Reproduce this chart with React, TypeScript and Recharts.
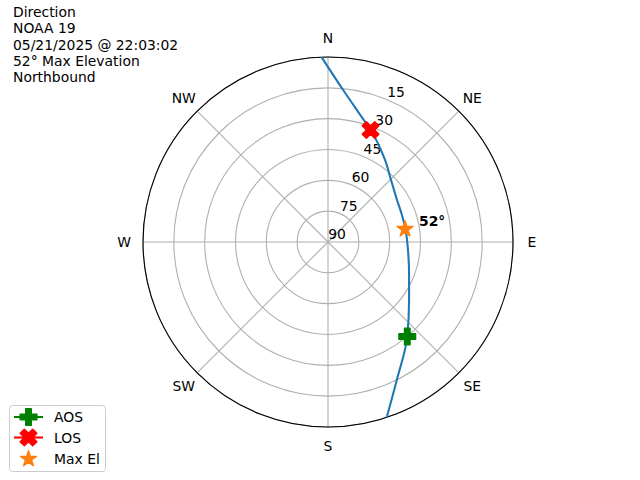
import React from 'react';
import {
  RadarChart,
  PolarGrid,
  PolarAngleAxis,
  PolarRadiusAxis,
  Radar,
  ScatterChart,
  Scatter,
  XAxis,
  YAxis,
} from 'recharts';

const FONT = '"DejaVu Sans", Verdana, sans-serif';
const CX = 328;
const CY = 242;
const R = 185;
const MARKER = 16.7; // 12pt markers

const titleLines = ['Direction', 'NOAA 19', '05/21/2025 @ 22:03:02', '52° Max Elevation', 'Northbound'];
const directions = ['N', 'NE', 'E', 'SE', 'S', 'SW', 'W', 'NW'];
const ringTicks = [0, 15, 30, 45, 60, 75, 90]; // zenith distance, label is 90 - value

// satellite track, degrees
const trackAz = [161.5, 153.5, 140.0, 125.6, 112.2, 95.7, 80.5, 69.9, 58.7, 45.5, 34.8, 20.8, 17.1, 5.7, 358.0];
const trackEl = [0, 15.0, 30.0, 41.5, 47.4, 50.9, 51.8, 51.7, 50.7, 47.0, 41.4, 31.7, 28.8, 15.7, 0];

const aosPoint = [{ az: 140.0, el: 30.0 }];
const losPoint = [{ az: 20.8, el: 31.7 }];
const maxElPoint = [{ az: 80.5, el: 52 }];

const toXY = (az: number, el: number) => {
  const rad = (az * Math.PI) / 180;
  return { az, el, x: (90 - el) * Math.sin(rad), y: (90 - el) * Math.cos(rad) };
};

const track = trackAz.map((az, i) => toXY(az, trackEl[i]));
const aosData = aosPoint.map((p) => toXY(p.az, p.el));
const losData = losPoint.map((p) => toXY(p.az, p.el));
const maxData = maxElPoint.map((p) => toXY(p.az, p.el));

const gridRows = directions.map((d) => ({ dir: d, zero: 0 }));

// matplotlib marker outlines
const plusPts = [[-1, -3], [1, -3], [1, -1], [3, -1], [3, 1], [1, 1], [1, 3], [-1, 3], [-1, 1], [-3, 1], [-3, -1], [-1, -1]];
const xPts = [[-1, -2], [0, -1], [1, -2], [2, -1], [1, 0], [2, 1], [1, 2], [0, 1], [-1, 2], [-2, 1], [-1, 0], [-2, -1]];

const polyPath = (pts: number[][], cx: number, cy: number, k: number) =>
  pts.map((p, i) => `${i ? 'L' : 'M'}${cx + p[0] * k},${cy + p[1] * k}`).join('') + 'Z';

const starPath = (cx: number, cy: number, size: number) => {
  const ro = size / 2;
  const ri = ro * 0.381966;
  let d = '';
  for (let i = 0; i < 10; i++) {
    const a = (i * Math.PI) / 5;
    const rr = i % 2 ? ri : ro;
    d += `${i ? 'L' : 'M'}${cx + rr * Math.sin(a)},${cy - rr * Math.cos(a)}`;
  }
  return d + 'Z';
};

const Plus = ({ cx, cy }: any) => (
  <path d={polyPath(plusPts, cx, cy, MARKER / 6)} fill="#008000" stroke="#008000" strokeWidth={1.4} strokeLinejoin="round" />
);
const Cross = ({ cx, cy }: any) => (
  <path d={polyPath(xPts, cx, cy, MARKER / 4)} fill="#ff0000" stroke="#ff0000" strokeWidth={1.4} strokeLinejoin="round" />
);
const Star = ({ cx, cy, payload }: any) => (
  <g>
    <path d={starPath(cx, cy, MARKER)} fill="#ff7f0e" stroke="#ff7f0e" strokeWidth={1.4} strokeLinejoin="round" />
    {payload && (
      <text x={cx + 14} y={cy - 8} fontFamily={FONT} fontSize={13.9} fontWeight="bold" dominantBaseline="central">
        {`${Math.round(payload.el)}°`}
      </text>
    )}
  </g>
);

const CompassTick = ({ x, y, payload }: any) => {
  const dx = x - CX;
  const dy = y - CY;
  const d = Math.hypot(dx, dy) || 1;
  const k = (R + 19) / d;
  return (
    <text x={CX + dx * k} y={CY + dy * k} textAnchor="middle" dominantBaseline="central" fontFamily={FONT} fontSize={13.9} fill="#000">
      {payload.value}
    </text>
  );
};

const RingTick = ({ x, y, payload }: any) => {
  if (payload.value >= 90) return <g />;
  return (
    <text x={x + 9} y={y - 8} textAnchor="middle" dominantBaseline="central" fontFamily={FONT} fontSize={13.9} fill="#000">
      {90 - payload.value}
    </text>
  );
};

const legendItems = [
  { name: 'AOS', color: '#008000', line: true, marker: 'plus' },
  { name: 'LOS', color: '#ff0000', line: true, marker: 'x' },
  { name: 'Max El', color: '#ff7f0e', line: false, marker: 'star' },
];

function LegendBox() {
  const rows = [417, 437.5, 459];
  return (
    <svg width={640} height={480} style={{ position: 'absolute', left: 0, top: 0, pointerEvents: 'none' }}>
      <rect x={9.5} y={405.5} width={96} height={66} rx={3} fill="#fff" fillOpacity={0.8} stroke="#cccccc" strokeWidth={1} />
      {legendItems.map((it, i) => {
        const yy = rows[i];
        return (
          <g key={it.name}>
            {it.line && <line x1={14} x2={43} y1={yy} y2={yy} stroke={it.color} strokeWidth={2.08} />}
            {it.marker === 'plus' && <Plus cx={28.5} cy={yy} />}
            {it.marker === 'x' && <Cross cx={28.5} cy={yy} />}
            {it.marker === 'star' && <path d={starPath(28.5, yy, MARKER)} fill={it.color} stroke={it.color} strokeWidth={1.4} strokeLinejoin="round" />}
            <text x={54} y={yy} dominantBaseline="central" fontFamily={FONT} fontSize={13.9} fill="#000">
              {it.name}
            </text>
          </g>
        );
      })}
    </svg>
  );
}

export default function App() {
  return (
    <div style={{ position: 'absolute', left: 0, top: 0, width: 640, height: 480, background: '#fff', fontFamily: FONT }}>
      <div style={{ position: 'absolute', left: 0, top: 0 }}>
        <RadarChart width={640} height={480} cx={CX} cy={CY} outerRadius={R} data={gridRows} margin={{ top: 0, right: 0, bottom: 0, left: 0 }}>
          <PolarGrid gridType="circle" stroke="#b0b0b0" strokeWidth={1.1} />
          <PolarAngleAxis dataKey="dir" axisLineType="circle" axisLine={{ stroke: '#000', strokeWidth: 1.1 }} tickLine={false} tick={CompassTick} />
          <PolarRadiusAxis angle={67.5} domain={[0, 90]} ticks={ringTicks} tickCount={7} axisLine={false} tickLine={false} tick={RingTick} />
          <Radar dataKey="zero" stroke="none" fill="none" dot={false} isAnimationActive={false} />
        </RadarChart>
      </div>
      <div style={{ position: 'absolute', left: 0, top: 0 }}>
        <ScatterChart width={640} height={480} margin={{ top: CY - R, right: 640 - CX - R, bottom: 480 - CY - R, left: CX - R }}>
          <XAxis type="number" dataKey="x" domain={[-90, 90]} hide />
          <YAxis type="number" dataKey="y" domain={[-90, 90]} hide />
          <Scatter
            data={track}
            line={{ stroke: '#1f77b4', strokeWidth: 2.08 }}
            lineJointType="monotoneY"
            shape={() => <g />}
            isAnimationActive={false}
          />
          <Scatter data={aosData} shape={Plus} isAnimationActive={false} />
          <Scatter data={losData} shape={Cross} isAnimationActive={false} />
          <Scatter data={maxData} shape={Star} isAnimationActive={false} />
        </ScatterChart>
      </div>
      <div style={{ position: 'absolute', left: 13, top: 3.7, fontSize: 13.9, lineHeight: '16.4px', color: '#000', whiteSpace: 'pre' }}>
        {titleLines.map((t) => (
          <div key={t}>{t}</div>
        ))}
      </div>
      <LegendBox />
    </div>
  );
}
